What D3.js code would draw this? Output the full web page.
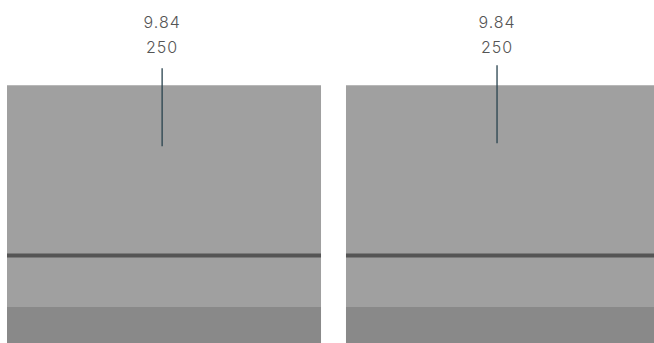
<!DOCTYPE html>
<html>
<head>
<meta charset="utf-8">
<script src="https://cdn.jsdelivr.net/npm/d3@7"></script>
<style>
  html, body { margin: 0; padding: 0; background: #fff; }
  svg { display: block; }
</style>
</head>
<body>
<svg id="chart" width="654" height="343"></svg>
<script>
// data
var panels = ["A", "B"];
var topLabels = ["9.84", "9.84"];
var bottomLabels = ["250", "250"];
var barTop = [250, 250];
var medianValue = [108, 108];
var lowerBand = [65, 65];
var markerHigh = [264, 266.5];
var markerLow = [199, 201.5];
var markerPos = [0.494, 0.481];

(function boxChart() {
    var svg = d3.select("#chart"),
        width = +svg.attr("width"),
        height = +svg.attr("height");

    var data = panels.map(function (p, i) {
        return {
            name: p, top: barTop[i], median: medianValue[i], low: lowerBand[i],
            hi: markerHigh[i], lo: markerLow[i], pos: markerPos[i],
            l1: topLabels[i], l2: bottomLabels[i]
        };
    });

    var x = d3.scaleBand().domain(panels).range([7, 660]).paddingInner(0.0737).paddingOuter(0);
    var y = d3.scaleLinear().domain([0, 250]).range([385, 85]);
    var inner = d3.scaleLinear().domain([0, 1]).range([0, x.bandwidth()]);

    var g = svg.selectAll(".panel")
        .data(data)
        .enter().append("g")
        .attr("class", "panel");

    // main bar
    g.append("rect")
        .attr("x", function (d) { return x(d.name); })
        .attr("y", function (d) { return y(d.top); })
        .attr("width", x.bandwidth())
        .attr("height", function (d) { return height - y(d.top); })
        .attr("fill", "#a0a0a0");

    // light top edge
    g.append("rect")
        .attr("x", function (d) { return x(d.name); })
        .attr("y", function (d) { return y(d.top); })
        .attr("width", x.bandwidth())
        .attr("height", 1)
        .attr("fill", "#b8b8b8");

    // lower band
    g.append("rect")
        .attr("x", function (d) { return x(d.name); })
        .attr("y", function (d) { return y(d.low); })
        .attr("width", x.bandwidth())
        .attr("height", function (d) { return height - y(d.low); })
        .attr("fill", "#898989");

    // median line
    g.append("line")
        .attr("x1", function (d) { return x(d.name); })
        .attr("x2", function (d) { return x(d.name) + x.bandwidth(); })
        .attr("y1", function (d) { return y(d.median); })
        .attr("y2", function (d) { return y(d.median); })
        .attr("stroke", "#555555")
        .attr("stroke-width", 4);

    // marker
    g.append("line")
        .attr("x1", function (d) { return x(d.name) + inner(d.pos); })
        .attr("x2", function (d) { return x(d.name) + inner(d.pos); })
        .attr("y1", function (d) { return y(d.hi); })
        .attr("y2", function (d) { return y(d.lo); })
        .attr("stroke", "#29434e")
        .attr("stroke-width", 1.3);

    function label(yPos, key) {
        g.append("text")
            .attr("x", function (d) { return x(d.name) + inner(d.pos); })
            .attr("y", yPos)
            .attr("text-anchor", "middle")
            .style("font-family", "Inter, sans-serif")
            .style("font-weight", 300)
            .style("font-size", "16px")
            .style("letter-spacing", "1px")
            .attr("fill", "#555")
            .text(function (d) { return d[key]; });
    }
    label(28, "l1");
    label(53, "l2");
}());
</script>
</body>
</html>
